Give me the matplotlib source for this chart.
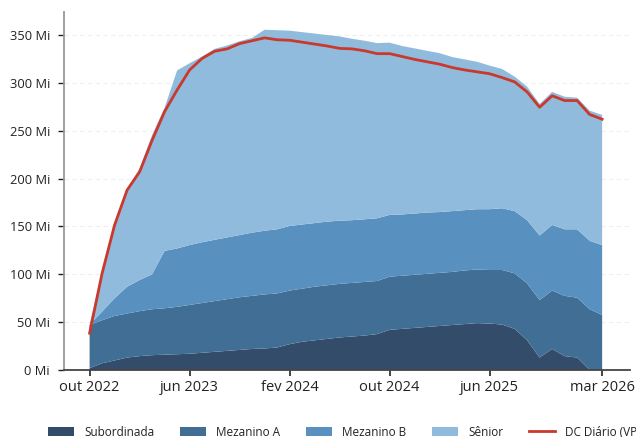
import numpy as np
import matplotlib
matplotlib.use("Agg")
import matplotlib.pyplot as plt
from matplotlib.ticker import FuncFormatter

plt.rcParams['font.family'] = ['Open Sans', 'DejaVu Sans']

# meses: out/2022 .. mar/2026 (42 pontos mensais)
n_meses = 42
tick_pos = [0, 8, 16, 24, 32, 41]
tick_labels = ["out 2022", "jun 2023", "fev 2024", "out 2024", "jun 2025", "mar 2026"]

# saldos por classe (R$ milhões)
subordinada = [2, 7, 10, 13, 14.5, 15.5, 16, 16.5, 17, 18, 19, 20, 21, 22, 22.5, 23.5,
               27, 29.5, 31, 32.5, 34, 35, 36, 37.5, 42, 43, 44, 45, 46, 47, 48, 49,
               48.5, 47.5, 43, 31, 13, 22, 14.5, 13, 0, 0]
mezanino_a = [45, 45, 46.5, 46, 47, 48, 48.5, 49.5, 51, 52, 53, 54, 55, 55.5, 56.5, 56.5,
              56, 55.5, 56, 56, 56, 56, 56, 55.5, 55.5, 55.5, 55.5, 55.5, 55.5, 55.5, 56, 56,
              56, 57, 58, 59.5, 60, 61, 63, 62.5, 63.5, 57.5]
mezanino_b = [0.5, 9, 18.5, 28, 32.5, 36.5, 60, 61, 62.5, 63.5, 64, 64.5, 65, 66, 66.5, 67,
              67.5, 67, 66.5, 66.5, 66, 65.5, 65.5, 65.5, 64.5, 64, 64, 64, 63.5, 63.5, 63, 63,
              63.5, 64.5, 65, 66, 67.5, 68.5, 69.5, 71.5, 71.5, 73]
senior = [0.5, 41, 78, 102, 116.5, 145.5, 149.5, 186, 190, 194, 199.5, 200.5, 202.5, 203.5,
          210, 208, 204, 201, 198, 195, 192.5, 189.5, 186.5, 183, 180, 176, 172.5, 169, 166,
          161, 157.5, 154, 150, 145.5, 140.5, 139.5, 137.5, 139, 138.5, 137.5, 136, 136]
dc_diario = [38.5, 101, 151.5, 188, 207, 240, 270, 292.5, 313.5, 325.5, 333, 335.5, 341,
             344, 347, 345, 344.5, 342.5, 340.5, 338.5, 336, 335.5, 333.5, 330.5, 330.5,
             327.5, 324.5, 322, 319.5, 316, 313.5, 311.5, 309.5, 305.5, 301, 290.5, 274.5,
             286.5, 281.5, 281.5, 267, 262]

nomes = ["Subordinada", "Mezanino A", "Mezanino B", "Sênior"]
cores = ["#324c6a", "#416e95", "#5891bf", "#91bbdd"]
cor_dc = "#c9392c"

x = np.arange(n_meses)

fig = plt.figure(figsize=(6.36, 4.37), dpi=100)
ax = fig.add_axes([0.1, 0.1533, 0.89, 0.8192])

ax.stackplot(x, subordinada, mezanino_a, mezanino_b, senior,
             colors=cores, labels=nomes, linewidth=0)
ax.plot(x, dc_diario, color=cor_dc, linewidth=2.0, label="DC Diário (VP)")

ax.set_xlim(-2.08, 43.2)
ax.set_ylim(0, 374)
ax.set_yticks(np.arange(0, 351, 50))
ax.yaxis.set_major_formatter(FuncFormatter(lambda v, p: f"{int(v)} Mi"))
ax.set_xticks(tick_pos)
ax.set_xticklabels(tick_labels)

ax.grid(axis='y', color='#eeeeee', linestyle=(0, (4, 3)), linewidth=0.8)
ax.set_axisbelow(True)

for s in ['top', 'right']:
    ax.spines[s].set_visible(False)
ax.spines['left'].set_color('#999999')
ax.spines['left'].set_linewidth(1.3)
ax.spines['bottom'].set_color('#444444')
ax.spines['bottom'].set_linewidth(1.3)
ax.tick_params(axis='y', length=4.3, width=1, color='#222222', labelsize=9.3,
               labelcolor='#222222', pad=5.5)
ax.tick_params(axis='x', length=4.5, width=1.2, color='#222222', labelsize=10.5,
               labelcolor='#222222', pad=2.5)

# legenda embaixo, como no original (a última entrada passa da borda)
fig.legend(loc='center left', bbox_to_anchor=(48 / 636, 5 / 437), ncol=5,
           frameon=False, fontsize=8.5, borderpad=0, borderaxespad=0,
           handlelength=2.2, handleheight=0.85, handletextpad=0.85, columnspacing=2.2,
           labelcolor='#222222')

fig.savefig("out.png", dpi=100)
